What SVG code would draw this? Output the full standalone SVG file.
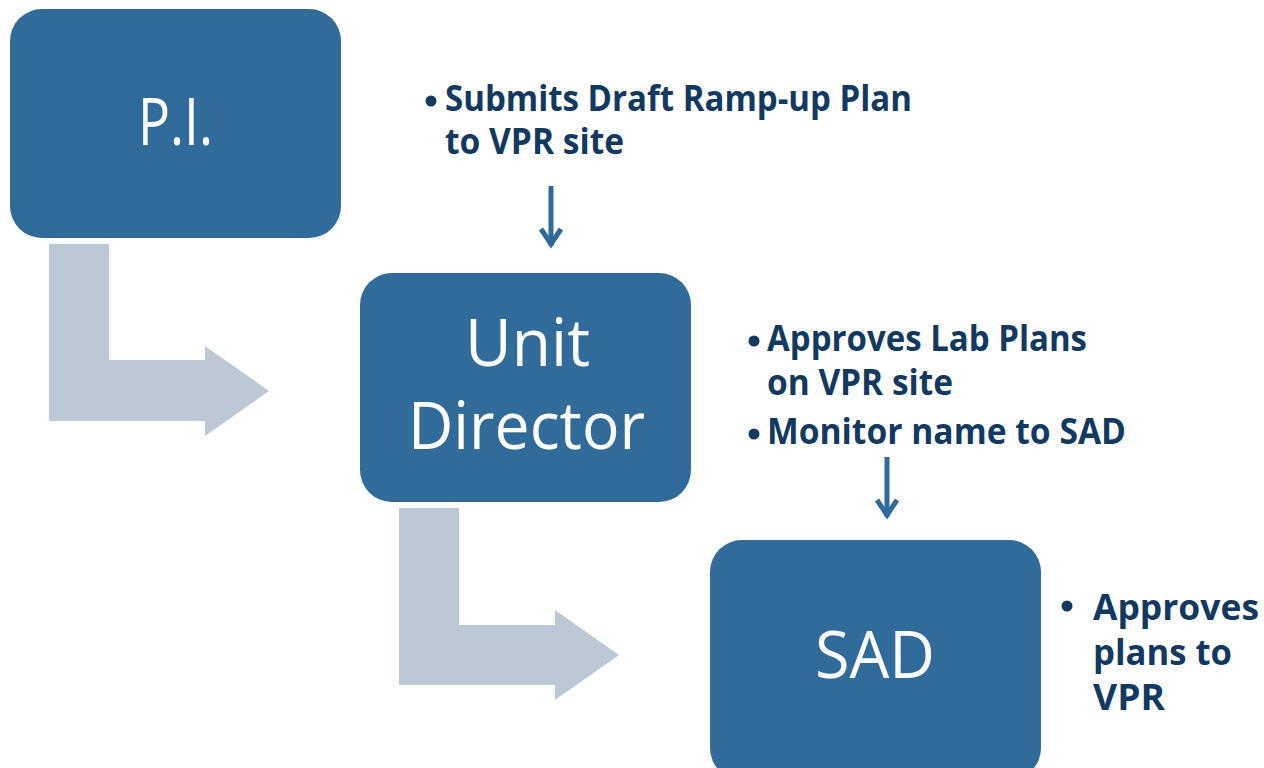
<svg xmlns="http://www.w3.org/2000/svg" width="1264" height="768" viewBox="0 0 1264 768">
  <style>
    .box { fill: #306B99; }
    .bent { fill: #BDC8D5; }
    .boxtext { font-family: "Open Sans", "Liberation Sans", sans-serif; font-size: 66px; fill: #FFFFFF; }
    .note { font-family: "Open Sans", "Liberation Sans", sans-serif; font-weight: bold; font-size: 35px; fill: #12395F; }
    .dot { fill: #12395F; }
    .conn { fill: none; stroke: #2F6A98; stroke-width: 5; stroke-linecap: butt; stroke-linejoin: miter; }
  </style>
  <rect width="1264" height="768" fill="#FFFFFF"/>

  <g id="connectors">
    <path class="bent" d="M49,244 H109 V360 H205 V346 L269,391 L205,436 V421 H49 Z"/>
    <path class="bent" d="M399,508 H459 V625 H555 V610 L619,655 L555,700 V685 H399 Z"/>
    <path class="conn" d="M551,186 V246"/>
    <path class="conn" d="M541,229 L551,244 L561,229"/>
    <path class="conn" d="M887,457 V517"/>
    <path class="conn" d="M877,500 L887,515 L897,500"/>
  </g>

  <g id="node-pi">
    <rect class="box" x="10" y="9" width="331" height="229" rx="32" ry="32"/>
    <text class="boxtext" x="138" y="145" textLength="75" lengthAdjust="spacingAndGlyphs">P.I.</text>
  </g>

  <g id="node-unit-director">
    <rect class="box" x="360" y="273" width="331" height="229" rx="32" ry="32"/>
    <text class="boxtext" x="465" y="366" textLength="125" lengthAdjust="spacingAndGlyphs">Unit</text>
    <text class="boxtext" x="408" y="449" textLength="237" lengthAdjust="spacingAndGlyphs">Director</text>
  </g>

  <g id="node-sad">
    <rect class="box" x="710" y="540" width="331" height="240" rx="32" ry="32"/>
    <text class="boxtext" x="815" y="678" textLength="120" lengthAdjust="spacingAndGlyphs">SAD</text>
  </g>

  <g id="note-pi">
    <circle class="dot" cx="431" cy="101" r="5.5"/>
    <text class="note" x="445" y="111" textLength="467" lengthAdjust="spacingAndGlyphs">Submits Draft Ramp-up Plan</text>
    <text class="note" x="445" y="154" textLength="179" lengthAdjust="spacingAndGlyphs">to VPR site</text>
  </g>

  <g id="note-unit-director">
    <circle class="dot" cx="754" cy="341" r="5.5"/>
    <text class="note" x="767" y="351" textLength="320" lengthAdjust="spacingAndGlyphs">Approves Lab Plans</text>
    <text class="note" x="767" y="395" textLength="186" lengthAdjust="spacingAndGlyphs">on VPR site</text>
    <circle class="dot" cx="754" cy="434" r="5.5"/>
    <text class="note" x="767" y="444" textLength="359" lengthAdjust="spacingAndGlyphs">Monitor name to SAD</text>
  </g>

  <g id="note-sad">
    <circle class="dot" cx="1067" cy="606" r="5.5"/>
    <text class="note" x="1093" y="620" textLength="166" lengthAdjust="spacingAndGlyphs">Approves</text>
    <text class="note" x="1093" y="665" textLength="139" lengthAdjust="spacingAndGlyphs">plans to</text>
    <text class="note" x="1093" y="710" textLength="72" lengthAdjust="spacingAndGlyphs">VPR</text>
  </g>
</svg>
